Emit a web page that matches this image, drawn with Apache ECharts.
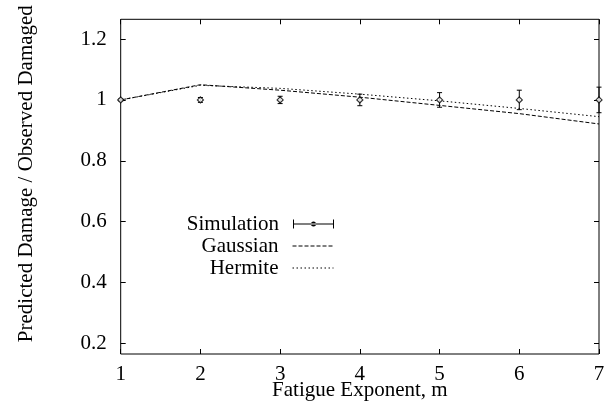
<!DOCTYPE html>
<html>
<head>
<meta charset="utf-8">
<script src="https://cdn.jsdelivr.net/npm/echarts@6/dist/echarts.min.js"></script>
<style>html,body{margin:0;padding:0;background:#fff}#c{width:608px;height:412px}</style>
</head>
<body>
<div id="c"></div>
<script>
var xValues = [1, 2, 3, 4, 5, 6, 7];
var simulation = [1, 1, 1, 1, 1, 1, 1];
var simError = [0.003, 0.008, 0.012, 0.019, 0.024, 0.032, 0.042];
var gaussian = [1.0, 1.05, 1.032, 1.009, 0.982, 0.955, 0.921];
var hermite = [1.0, 1.048, 1.038, 1.019, 0.997, 0.972, 0.945];
var xTicks = [1, 2, 3, 4, 5, 6, 7];
var yTicks = [0.2, 0.4, 0.6, 0.8, 1, 1.2];

var FONT = '"Liberation Serif", "DejaVu Serif", serif';
var chart = echarts.init(document.getElementById('c'), null, {renderer: 'canvas'});

function pairs(ys) { return xValues.map(function (x, i) { return [x, ys[i]]; }); }
var errData = xValues.map(function (x, i) { return [x, simulation[i] - simError[i], simulation[i] + simError[i]]; });

var commonX = {
  type: 'value', min: 1, max: 7,
  axisLine: {show: false},
  splitLine: {show: false},
  axisTick: {show: true, inside: true, length: 5, customValues: xTicks, lineStyle: {color: '#000', width: 1}}
};
var commonY = {
  type: 'value', min: 0.165, max: 1.265,
  axisLine: {show: false},
  splitLine: {show: false},
  axisTick: {show: true, inside: true, length: 5, customValues: yTicks, lineStyle: {color: '#000', width: 1}}
};

function legendFor(item, top, extra) {
  var l = {
    data: [item], orient: 'vertical', align: 'right', right: 274, top: top, padding: 0,
    itemWidth: 41, itemHeight: 9, selectedMode: false,
    lineStyle: {width: 1},
    textStyle: {fontFamily: FONT, fontSize: 21, color: '#000', lineHeight: 22, padding: [0, 9, 0, 0]}
  };
  if (extra) { for (var k in extra) l[k] = extra[k]; }
  return l;
}
var hiddenSymbol = {itemStyle: {color: 'rgba(0,0,0,0)', borderWidth: 0, borderColor: 'rgba(0,0,0,0)'}};

var option = {
  animation: false,
  backgroundColor: '#fff',
  grid: {left: 120.7, right: 9, top: 19.3, bottom: 58, show: true, borderColor: '#000', borderWidth: 1,
    backgroundColor: 'transparent', outerBoundsMode: 'none', containLabel: false},
  legend: [
    legendFor('Simulation', 213, {icon: 'path://M0,0L1,0L1,9L0,9Z M0,4L41,4L41,5L0,5Z M40,0L41,0L41,9L40,9Z M18,4.5A2.5,2.5 0 1,0 23,4.5A2.5,2.5 0 1,0 18,4.5Z', itemStyle: {color: '#000', borderWidth: 0}}),
    legendFor('Gaussian', 235, hiddenSymbol),
    legendFor('Hermite', 257, hiddenSymbol)
  ],
  xAxis: [
    Object.assign({}, commonX, {
      position: 'bottom',
      name: 'Fatigue Exponent, m', nameLocation: 'middle', nameGap: 26, nameMoveOverlap: false,
      nameTextStyle: {fontFamily: FONT, fontSize: 21, color: '#000'},
      axisLabel: {customValues: xTicks, margin: 10, fontFamily: FONT, fontSize: 21, color: '#000'}
    }),
    Object.assign({}, commonX, {position: 'top', axisLabel: {show: false}})
  ],
  yAxis: [
    Object.assign({}, commonY, {
      position: 'left',
      name: 'Predicted Damage / Observed Damaged', nameLocation: 'middle', nameGap: 84, nameRotate: 90,
      nameMoveOverlap: false,
      nameTextStyle: {fontFamily: FONT, fontSize: 21, color: '#000', padding: [0, 0, 0, 26]},
      axisLabel: {customValues: yTicks, margin: 14, fontFamily: FONT, fontSize: 21, color: '#000',
        formatter: function (v) { return String(Math.round(v * 10) / 10); }}
    }),
    Object.assign({}, commonY, {position: 'right', axisLabel: {show: false}})
  ],
  series: [
    {
      name: 'Gaussian', type: 'line', xAxisIndex: 0, yAxisIndex: 0, data: pairs(gaussian),
      symbol: 'none', lineStyle: {color: '#000', width: 1, type: [4, 2]}, itemStyle: {color: '#000'}
    },
    {
      name: 'Hermite', type: 'line', xAxisIndex: 0, yAxisIndex: 0, data: pairs(hermite),
      symbol: 'none', lineStyle: {color: '#000', width: 1, type: [1.5, 2.5]}, itemStyle: {color: '#000'}
    },
    {
      name: 'Simulation', type: 'custom', xAxisIndex: 0, yAxisIndex: 0, data: errData, clip: false,
      itemStyle: {color: '#000'},
      renderItem: function (params, api) {
        var lo = api.coord([api.value(0), api.value(1)]);
        var hi = api.coord([api.value(0), api.value(2)]);
        var cx = lo[0], w = 2.5;
        var st = {stroke: '#000', lineWidth: 1, fill: null};
        return {
          type: 'group',
          children: [
            {type: 'line', shape: {x1: cx, y1: lo[1], x2: cx, y2: hi[1]}, style: st},
            {type: 'line', shape: {x1: cx - w, y1: lo[1], x2: cx + w, y2: lo[1]}, style: st},
            {type: 'line', shape: {x1: cx - w, y1: hi[1], x2: cx + w, y2: hi[1]}, style: st}
          ]
        };
      }
    },
    {
      name: 'SimulationPoints', type: 'scatter', xAxisIndex: 0, yAxisIndex: 0, data: pairs(simulation),
      symbol: 'diamond', symbolSize: 6, clip: false,
      itemStyle: {color: '#fff', borderColor: '#000', borderWidth: 1.2}, z: 5
    }
  ]
};
chart.setOption(option);
</script>
</body>
</html>
